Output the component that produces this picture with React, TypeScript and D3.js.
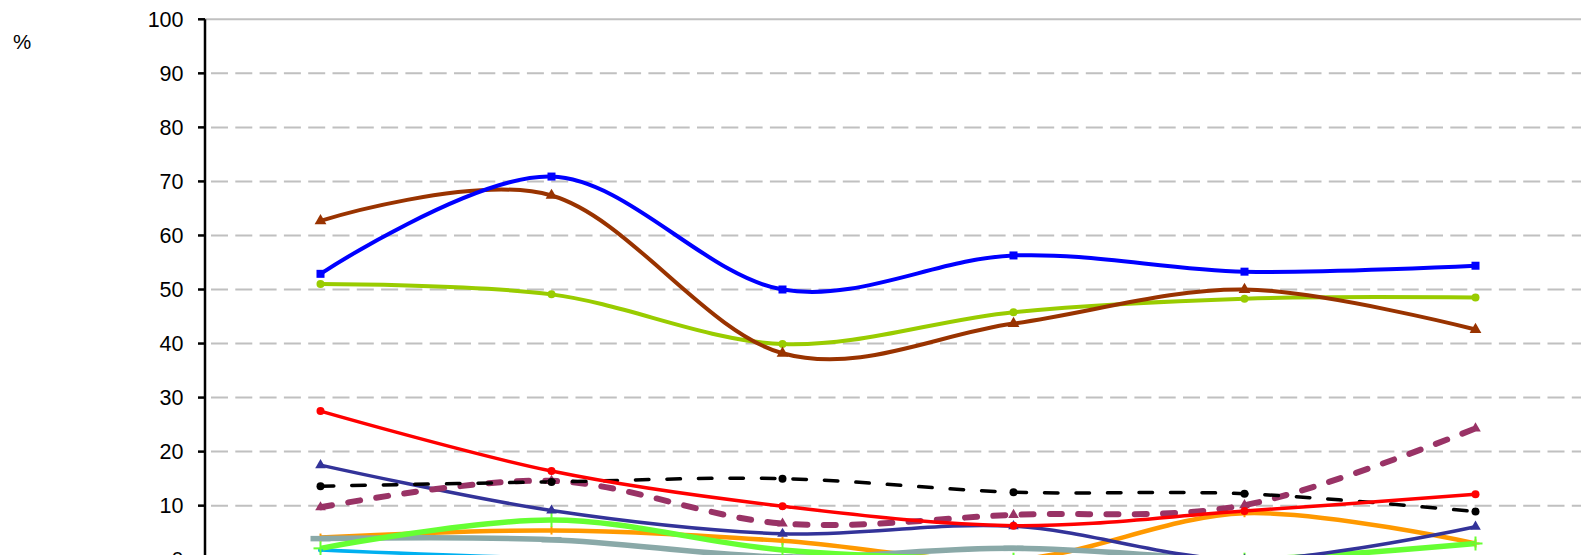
import React from "react";
import * as d3 from "d3";

const categories = ["1", "2", "3", "4", "5", "6"];
const yTicks = [0, 10, 20, 30, 40, 50, 60, 70, 80, 90, 100];

const blueVals = [52.9, 70.9, 50.0, 56.3, 53.3, 54.4];
const brownVals = [62.7, 67.4, 38.2, 43.7, 50.0, 42.6];
const limeVals = [51.0, 49.1, 39.9, 45.8, 48.3, 48.5];
const redVals = [27.5, 16.4, 9.9, 6.3, 9.0, 12.1];
const navyVals = [17.5, 9.1, 4.8, 6.2, 0, 6.1];
const blackVals = [13.6, 14.4, 15.0, 12.5, 12.2, 8.9];
const purpleVals = [9.7, 14.6, 6.7, 8.3, 10.1, 24.3];
const greenVals = [2.1, 7.35, 1.8, 0, 0, 3.0];
const orangeVals = [4.1, 5.4, 3.5, 0, 8.6, 3.0];
const grayVals = [3.9, 3.7, 0.5, 2.1, 0, 0];
const cyanVals = [1.8, 0.3, 0, 0, 0, 0];

type S = {
  name: string;
  values: number[];
  color: string;
  width: number;
  dash?: string;
  marker: "square" | "circle" | "triangle" | "plus" | "dash" | "none";
  msize: number;
};

const series: S[] = [
  { name: "cyan", values: cyanVals, color: "#00b0f0", width: 3.5, marker: "circle", msize: 5 },
  { name: "orange", values: orangeVals, color: "#ff9900", width: 4.5, marker: "plus", msize: 8 },
  { name: "gray", values: grayVals, color: "#8aa9a8", width: 5.5, marker: "dash", msize: 20 },
  { name: "green", values: greenVals, color: "#66ff33", width: 5.5, marker: "plus", msize: 14 },
  { name: "navy", values: navyVals, color: "#333399", width: 3.5, marker: "triangle", msize: 9 },
  { name: "purple", values: purpleVals, color: "#993366", width: 6, dash: "12 16.3", marker: "triangle", msize: 9 },
  { name: "black", values: blackVals, color: "#000000", width: 3.5, dash: "13.5 18", marker: "circle", msize: 8 },
  { name: "red", values: redVals, color: "#ff0000", width: 3.5, marker: "circle", msize: 8 },
  { name: "lime", values: limeVals, color: "#99cc00", width: 4, marker: "circle", msize: 8 },
  { name: "brown", values: brownVals, color: "#993300", width: 4, marker: "triangle", msize: 10 },
  { name: "blue", values: blueVals, color: "#0000ff", width: 4, marker: "square", msize: 8 },
];

const W = 1581;
const H = 555;
const axisX = 205;
const plotRight = 1591;
const yTop = 19.3;
const yZero = 559.7;

export default function App() {
  const x = d3.scalePoint<string>().domain(categories).range([axisX, plotRight]).padding(0.5);
  const y = d3.scaleLinear().domain([0, 100]).range([yZero, yTop]);
  const line = d3
    .line<number>()
    .x((_, i) => x(categories[i]) as number)
    .y((d) => y(d))
    .curve(d3.curveCardinal.tension(0));

  const marker = (s: S, cx: number, cy: number, key: string) => {
    const m = s.msize;
    if (s.marker === "square")
      return <rect key={key} x={cx - m / 2} y={cy - m / 2} width={m} height={m} fill={s.color} />;
    if (s.marker === "circle") return <circle key={key} cx={cx} cy={cy} r={m / 2} fill={s.color} />;
    if (s.marker === "triangle") {
      const p = d3.symbol(d3.symbolTriangle, m * m * 0.6)();
      return <path key={key} d={p || ""} transform={`translate(${cx},${cy})`} fill={s.color} />;
    }
    if (s.marker === "plus")
      return (
        <g key={key} stroke={s.color} strokeWidth={2}>
          <line x1={cx - m / 2} x2={cx + m / 2} y1={cy} y2={cy} />
          <line x1={cx} x2={cx} y1={cy - m / 2} y2={cy + m / 2} />
        </g>
      );
    if (s.marker === "dash")
      return <line key={key} x1={cx - m / 2} x2={cx + m / 2} y1={cy} y2={cy} stroke={s.color} strokeWidth={s.width} />;
    return null;
  };

  return (
    <svg
      width={W}
      height={H}
      style={{ position: "absolute", left: 0, top: 0, background: "#fff" }}
      fontFamily="'Liberation Sans', Arial, sans-serif"
    >
      {yTicks.map((t) => (
        <line
          key={"g" + t}
          x1={axisX}
          x2={plotRight}
          y1={y(t)}
          y2={y(t)}
          stroke="#c0c0c0"
          strokeWidth={2}
          strokeDasharray={t === 100 ? undefined : "17 7.3"}
          strokeDashoffset={-6}
        />
      ))}
      {series.map((s) => (
        <path
          key={s.name}
          d={line(s.values) || ""}
          fill="none"
          stroke={s.color}
          strokeWidth={s.width}
          strokeDasharray={s.dash}
          strokeLinecap={s.dash ? "round" : "butt"}
          strokeLinejoin="round"
        />
      ))}
      {series.map((s) =>
        s.values.map((v, i) => marker(s, x(categories[i]) as number, y(v), s.name + i))
      )}
      <line x1={axisX} x2={axisX} y1={yTop} y2={yZero} stroke="#000" strokeWidth={2.5} />
      {yTicks.map((t) => (
        <g key={"t" + t}>
          <line x1={axisX - 7} x2={axisX} y1={y(t)} y2={y(t)} stroke="#000" strokeWidth={2.5} />
          <text x={183.5} y={y(t)} dy="0.36em" textAnchor="end" fontSize={21.5} fill="#000">
            {t}
          </text>
        </g>
      ))}
      <text x={13} y={49.3} fontSize={20.5} fill="#000">
        %
      </text>
    </svg>
  );
}
